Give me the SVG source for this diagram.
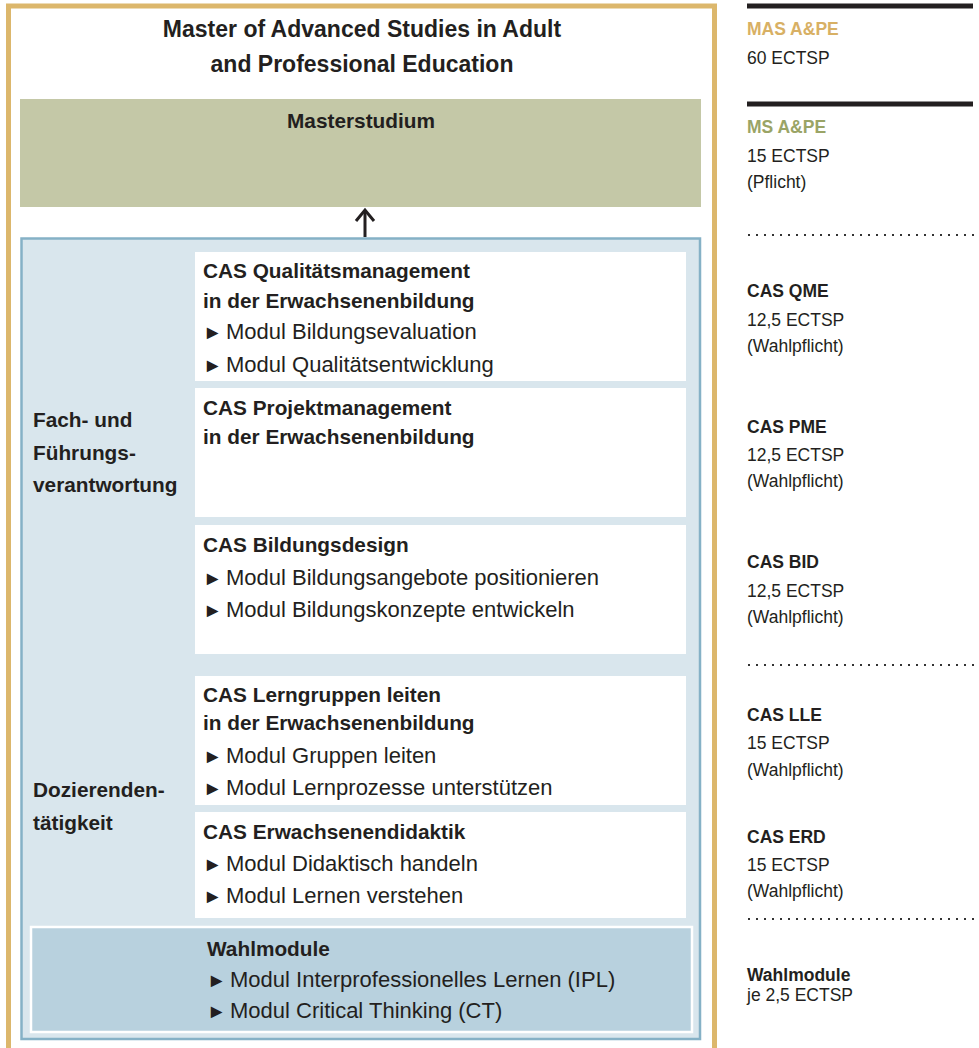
<svg xmlns="http://www.w3.org/2000/svg" width="979" height="1048" viewBox="0 0 979 1048">
<style>
text{font-family:"Liberation Sans",Arial,sans-serif;fill:#231f20}
.t{font-size:20.8px;font-weight:bold}
.m{font-size:22px}
.b{font-size:19.5px}
.big{font-size:23px;font-weight:bold}
.rb{font-size:17.5px;font-weight:bold}
.rr{font-size:17.5px}
.white{fill:#ffffff}
.dots{stroke:#333333;stroke-width:2;stroke-dasharray:2 6}
</style>
<defs>
<marker id="head" viewBox="0 0 16 22" refX="13" refY="11" markerWidth="16" markerHeight="22" markerUnits="userSpaceOnUse" orient="auto">
<path d="M2,2 L13,11 L2,20" fill="none" stroke="#231f20" stroke-width="3"/>
</marker>
</defs>
<rect width="979" height="1048" fill="#ffffff"/>
<g id="frame">
<path d="M8.5,1052 V6 H714.5 V1052" fill="none" stroke="#dcb76c" stroke-width="5"/>
<text class="big" x="362" y="37" text-anchor="middle">Master of Advanced Studies in Adult</text>
<text class="big" x="362" y="72" text-anchor="middle">and Professional Education</text>
</g>
<g id="masterstudium">
<rect x="20" y="99" width="681" height="108" fill="#c4c8a7"/>
<text class="t" x="361" y="128" text-anchor="middle">Masterstudium</text>
</g>
<g id="cas-container">
<rect x="21.5" y="238.5" width="678.5" height="800.5" fill="#d9e6ed" stroke="#85b1c6" stroke-width="2.5"/>
<text class="t" x="33" y="427">Fach- und</text>
<text class="t" x="33" y="460">Führungs-</text>
<text class="t" x="33" y="492">verantwortung</text>
<text class="t" x="33" y="797">Dozierenden-</text>
<text class="t" x="33" y="830">tätigkeit</text>
</g>
<g id="cas-qme">
<rect class="white" x="195" y="252" width="491" height="129"/>
<text class="t" x="203" y="278">CAS Qualitätsmanagement</text>
<text class="t" x="203" y="308">in der Erwachsenenbildung</text>
<text x="203" y="339"><tspan class="b">►</tspan><tspan class="m" x="226">Modul Bildungsevaluation</tspan></text>
<text x="203" y="372"><tspan class="b">►</tspan><tspan class="m" x="226">Modul Qualitätsentwicklung</tspan></text>
</g>
<g id="cas-pme">
<rect class="white" x="195" y="388" width="491" height="129"/>
<text class="t" x="203" y="415">CAS Projektmanagement</text>
<text class="t" x="203" y="444">in der Erwachsenenbildung</text>
</g>
<g id="cas-bid">
<rect class="white" x="195" y="525" width="491" height="129"/>
<text class="t" x="203" y="552">CAS Bildungsdesign</text>
<text x="203" y="585"><tspan class="b">►</tspan><tspan class="m" x="226">Modul Bildungsangebote positionieren</tspan></text>
<text x="203" y="617"><tspan class="b">►</tspan><tspan class="m" x="226">Modul Bildungskonzepte entwickeln</tspan></text>
</g>
<g id="cas-lle">
<rect class="white" x="195" y="676" width="491" height="129"/>
<text class="t" x="203" y="702">CAS Lerngruppen leiten</text>
<text class="t" x="203" y="730">in der Erwachsenenbildung</text>
<text x="203" y="763"><tspan class="b">►</tspan><tspan class="m" x="226">Modul Gruppen leiten</tspan></text>
<text x="203" y="795"><tspan class="b">►</tspan><tspan class="m" x="226">Modul Lernprozesse unterstützen</tspan></text>
</g>
<g id="cas-erd">
<rect class="white" x="195" y="812" width="491" height="106"/>
<text class="t" x="203" y="839">CAS Erwachsenendidaktik</text>
<text x="203" y="871"><tspan class="b">►</tspan><tspan class="m" x="226">Modul Didaktisch handeln</tspan></text>
<text x="203" y="903"><tspan class="b">►</tspan><tspan class="m" x="226">Modul Lernen verstehen</tspan></text>
</g>
<g id="wahlmodule">
<rect x="31" y="927" width="661" height="105" fill="#b8d1de" stroke="#ffffff" stroke-width="2.5"/>
<text class="t" x="207" y="956">Wahlmodule</text>
<text x="207" y="987"><tspan class="b">►</tspan><tspan class="m" x="230">Modul Interprofessionelles Lernen (IPL)</tspan></text>
<text x="207" y="1018"><tspan class="b">►</tspan><tspan class="m" x="230">Modul Critical Thinking (CT)</tspan></text>
</g>
<g id="connectors">
<line x1="365" y1="237" x2="365" y2="210" stroke="#231f20" stroke-width="3" marker-end="url(#head)"/>
</g>
<g id="legend">
<rect x="747" y="3.5" width="226" height="5" fill="#231f20"/>
<text class="rb" x="747" y="35" style="fill:#d8b064">MAS A&amp;PE</text>
<text class="rr" x="747" y="64">60 ECTSP</text>
<rect x="747" y="101.5" width="226" height="5" fill="#231f20"/>
<text class="rb" x="747" y="133" style="fill:#9aa466">MS A&amp;PE</text>
<text class="rr" x="747" y="162">15 ECTSP</text>
<text class="rr" x="747" y="188">(Pflicht)</text>
<line class="dots" x1="748" y1="235" x2="976" y2="235"/>
<text class="rb" x="747" y="297">CAS QME</text>
<text class="rr" x="747" y="326">12,5 ECTSP</text>
<text class="rr" x="747" y="352">(Wahlpflicht)</text>
<text class="rb" x="747" y="433">CAS PME</text>
<text class="rr" x="747" y="461">12,5 ECTSP</text>
<text class="rr" x="747" y="487">(Wahlpflicht)</text>
<text class="rb" x="747" y="568">CAS BID</text>
<text class="rr" x="747" y="597">12,5 ECTSP</text>
<text class="rr" x="747" y="623">(Wahlpflicht)</text>
<line class="dots" x1="748" y1="665" x2="976" y2="665"/>
<text class="rb" x="747" y="721">CAS LLE</text>
<text class="rr" x="747" y="749">15 ECTSP</text>
<text class="rr" x="747" y="776">(Wahlpflicht)</text>
<text class="rb" x="747" y="843">CAS ERD</text>
<text class="rr" x="747" y="871">15 ECTSP</text>
<text class="rr" x="747" y="897">(Wahlpflicht)</text>
<line class="dots" x1="748" y1="919" x2="976" y2="919"/>
<text class="rb" x="747" y="981">Wahlmodule</text>
<text class="rr" x="747" y="1001">je 2,5 ECTSP</text>
</g>
</svg>
